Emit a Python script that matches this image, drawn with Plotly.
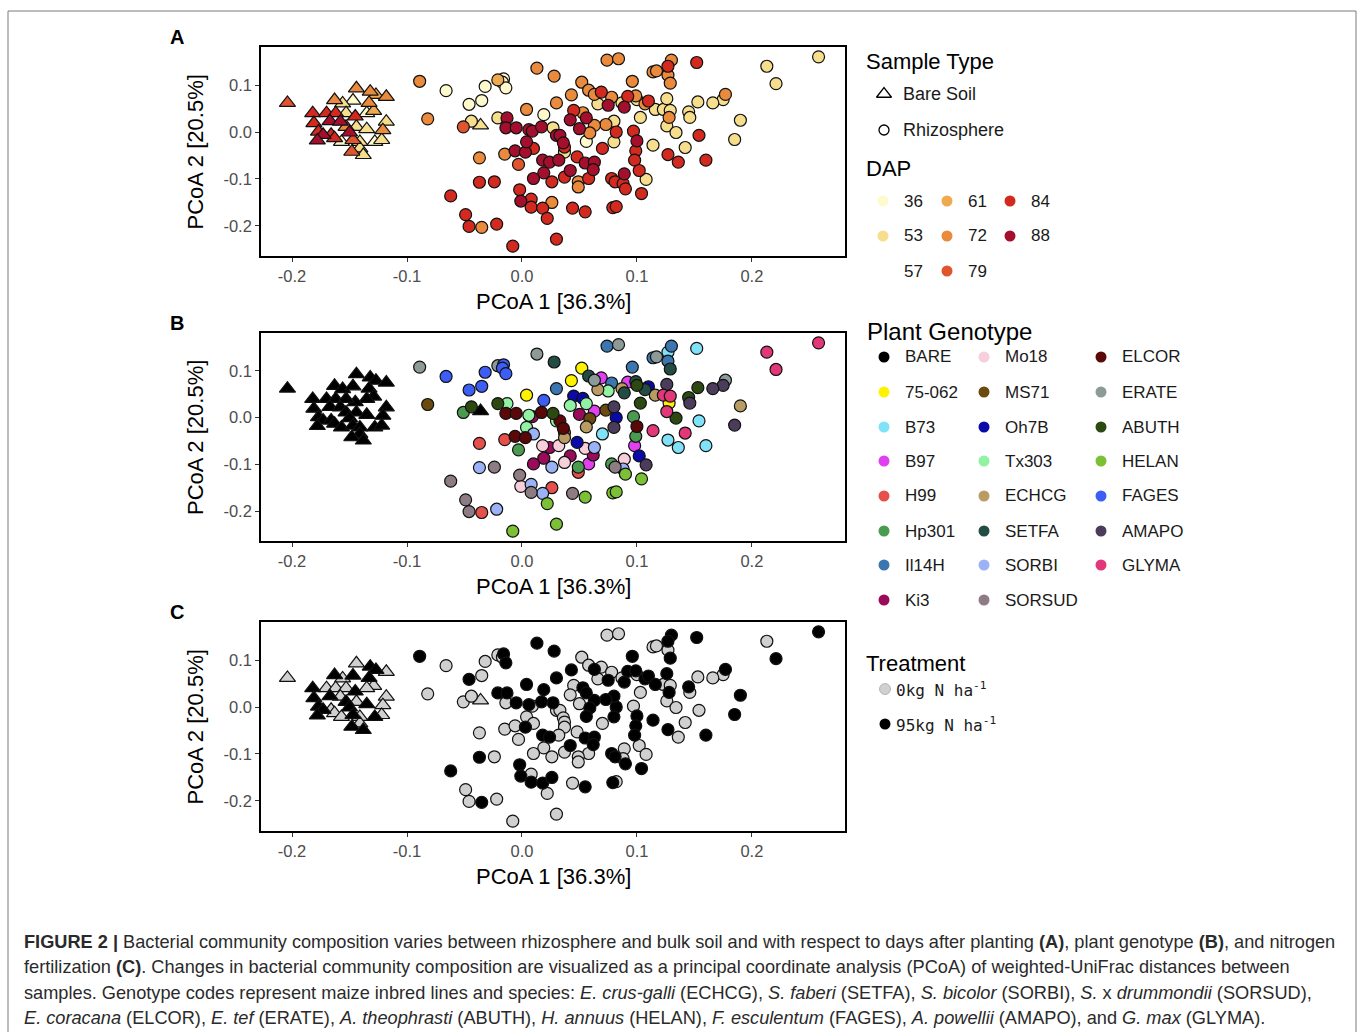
import plotly.graph_objects as go

# ---------------- DATA ----------------
# Bare soil samples (triangles)
bs_pc1 = [-0.204, -0.144, -0.132, -0.127, -0.118, -0.163, -0.156, -0.147, -0.133, -0.129,
          -0.135, -0.182, -0.170, -0.162, -0.145, -0.153, -0.181, -0.167, -0.158, -0.118,
          -0.153, -0.144, -0.135, -0.121, -0.177, -0.173, -0.166, -0.150, -0.163, -0.178,
          -0.157, -0.147, -0.141, -0.128, -0.141, -0.148, -0.138, -0.122, -0.036]
bs_pc2 = [0.062, 0.093, 0.086, 0.079, 0.075, 0.068, 0.061, 0.067, 0.062, 0.045,
          0.040, 0.040, 0.040, 0.040, 0.033, 0.040, 0.019, 0.023, 0.022, 0.022,
          0.011, 0.011, 0.006, 0.004, 0.001, -0.006, -0.006, -0.001, -0.013, -0.018,
          -0.021, -0.017, -0.021, -0.021, -0.035, -0.042, -0.049, -0.017, 0.014]
bs_dap = [79, 72, 72, 61, 72, 72, 53, 36, 72, 61,
          36, 84, 84, 84, 84, 53, 84, 88, 88, 53,
          72, 53, 53, 72, 84, 88, 84, 88, 84, 88,
          36, 79, 53, 36, 53, 79, 53, 53, 53]
bs_trt = [0, 0, 95, 95, 0, 95, 0, 95, 95, 0,
          0, 95, 0, 0, 95, 0, 95, 95, 0, 0,
          95, 0, 95, 0, 95, 95, 0, 95, 0, 95,
          0, 95, 0, 95, 0, 95, 95, 0, 0]

# Rhizosphere samples (circles)
rz_pc1 = [-0.089, -0.066, -0.082, -0.046, -0.035, -0.032, -0.021, -0.016, -0.017, -0.014,
          -0.051, -0.044, -0.021, -0.013, -0.014, -0.005, 0.004, 0.019, 0.006, 0.009,
          0.017, 0.027, 0.030, -0.037, -0.015, -0.006, 0.003, -0.003, 0.004, 0.010,
          0.018, 0.024, 0.019, 0.010, 0.026, -0.037, -0.024, -0.062, -0.002, -0.001,
          0.008, 0.008, 0.018, 0.026, 0.022, -0.049, -0.046, -0.035, -0.022, -0.008,
          0.030, 0.013, 0.028, 0.030, 0.074, 0.084, 0.152, 0.130, 0.127, 0.114,
          0.117, 0.127, 0.129, 0.096, 0.052, 0.058, 0.043, 0.063, 0.069, 0.078,
          0.066, 0.075, 0.087, 0.089, 0.092, 0.099, 0.100, 0.107, 0.110, 0.116,
          0.123, 0.129, 0.126, 0.128, 0.126, 0.134, 0.145, 0.146, 0.153, 0.154,
          0.142, 0.136, 0.127, 0.114, 0.103, 0.097, 0.100, 0.099, 0.098, 0.102,
          0.108, 0.104, 0.082, 0.080, 0.080, 0.073, 0.070, 0.089, 0.078, 0.081,
          0.088, 0.090, 0.079, 0.082, 0.055, 0.044, 0.045, 0.053, 0.042, 0.056,
          0.050, 0.063, 0.059, 0.056, 0.033, 0.036, 0.037, 0.037, 0.032, 0.048,
          0.055, 0.063, 0.062, 0.058, 0.042, 0.037, 0.049, 0.049, 0.258, 0.213,
          0.221, 0.177, 0.175, 0.166, 0.190, 0.185, 0.160]
rz_pc2 = [0.108, 0.088, 0.028, 0.059, 0.067, 0.097, 0.111, 0.113, 0.106, 0.094,
          0.011, 0.023, 0.030, 0.030, 0.009, 0.009, 0.048, 0.037, 0.005, 0.002,
          0.011, 0.009, -0.007, -0.055, -0.047, -0.040, -0.043, -0.069, -0.021, -0.035,
          -0.060, -0.064, -0.087, -0.099, -0.106, -0.107, -0.106, -0.136, -0.123, -0.147,
          -0.143, -0.160, -0.162, -0.150, -0.184, -0.176, -0.201, -0.203, -0.196, -0.243,
          -0.228, 0.136, 0.119, 0.062, 0.153, 0.156, 0.148, 0.153, 0.140, 0.128,
          0.130, 0.121, 0.104, 0.108, 0.106, 0.089, 0.079, 0.080, 0.085, 0.074,
          0.060, 0.057, 0.062, 0.053, 0.076, 0.077, 0.069, 0.060, 0.066, 0.048,
          0.048, 0.046, 0.071, 0.031, 0.013, -0.001, 0.043, 0.031, 0.064, -0.007,
          -0.033, -0.064, -0.048, -0.028, 0.031, 0.002, -0.019, -0.040, -0.060, -0.082,
          -0.101, -0.131, 0.000, 0.023, -0.021, 0.016, -0.035, -0.089, -0.099, -0.106,
          -0.110, -0.121, -0.161, -0.159, -0.170, -0.162, 0.046, 0.041, 0.026, 0.030,
          0.007, 0.014, -0.002, -0.020, -0.007, -0.023, -0.032, -0.043, -0.060, -0.053,
          -0.066, -0.064, -0.080, -0.099, -0.082, -0.096, -0.106, -0.117, 0.160, 0.140,
          0.103, 0.080, 0.069, 0.062, 0.025, -0.016, -0.060]
rz_dap = [72, 36, 72, 36, 36, 36, 61, 36, 36, 36,
          79, 53, 53, 88, 88, 88, 72, 36, 88, 88,
          88, 53, 88, 72, 72, 88, 88, 79, 88, 84,
          88, 88, 88, 88, 84, 84, 84, 84, 84, 88,
          84, 84, 84, 72, 84, 84, 84, 72, 84, 84,
          84, 72, 72, 72, 72, 72, 84, 72, 84, 72,
          72, 72, 72, 72, 72, 72, 72, 72, 84, 72,
          53, 88, 53, 88, 84, 72, 53, 72, 84, 53,
          53, 53, 53, 72, 53, 53, 53, 53, 53, 84,
          53, 84, 84, 53, 53, 84, 88, 84, 84, 84,
          53, 84, 84, 53, 53, 72, 84, 88, 84, 84,
          84, 84, 84, 84, 84, 84, 84, 72, 88, 88,
          88, 72, 72, 36, 88, 88, 84, 53, 88, 84,
          88, 88, 88, 84, 88, 84, 72, 72, 53, 53,
          53, 72, 53, 53, 53, 53, 84]
rz_geno = ["ERATE", "FAGES", "MS71", "FAGES", "FAGES", "FAGES", "ERATE", "FAGES", "FAGES", "FAGES",
           "Hp301", "ABUTH", "ABUTH", "Tx303", "ELCOR", "ELCOR", "75-062", "FAGES", "Tx303", "Ki3",
           "ELCOR", "ABUTH", "Tx303", "H99", "H99", "ELCOR", "ELCOR", "Hp301", "Tx303", "SORBI",
           "Mo18", "Ki3", "Ki3", "Ki3", "SORBI", "SORBI", "SORSUD", "SORSUD", "SORSUD", "Mo18",
           "SORBI", "SORSUD", "SORBI", "H99", "HELAN", "SORSUD", "SORSUD", "H99", "SORBI", "HELAN",
           "HELAN", "ERATE", "SETFA", "Il14H", "Il14H", "ERATE", "B73", "Il14H", "B73", "Il14H",
           "ERATE", "Il14H", "SETFA", "Il14H", "75-062", "SETFA", "75-062", "ERATE", "B97", "Il14H",
           "ECHCG", "Tx303", "ECHCG", "SETFA", "B97", "SETFA", "ABUTH", "SETFA", "Oh7B", "ECHCG",
           "GLYMA", "GLYMA", "AMAPO", "75-062", "GLYMA", "ABUTH", "ABUTH", "AMAPO", "ABUTH", "B73",
           "GLYMA", "B73", "B73", "GLYMA", "ABUTH", "Hp301", "ELCOR", "Hp301", "B97", "Oh7B",
           "AMAPO", "HELAN", "Oh7B", "AMAPO", "AMAPO", "MS71", "B73", "Mo18", "Hp301", "SORSUD",
           "SORBI", "HELAN", "HELAN", "HELAN", "HELAN", "SORSUD", "Oh7B", "Oh7B", "Tx303", "Tx303",
           "Ki3", "B97", "MS71", "ECHCG", "ELCOR", "ELCOR", "H99", "ECHCG", "Mo18", "Oh7B",
           "Mo18", "SORBI", "Ki3", "B97", "Ki3", "Mo18", "Hp301", "H99", "GLYMA", "GLYMA",
           "GLYMA", "ERATE", "AMAPO", "AMAPO", "ECHCG", "AMAPO", "B73"]
rz_trt = [95, 0, 0, 95, 0, 0, 0, 95, 0, 95,
          0, 0, 95, 95, 0, 95, 95, 95, 95, 0,
          95, 95, 0, 0, 0, 0, 95, 0, 0, 0,
          95, 95, 0, 0, 0, 95, 0, 95, 95, 95,
          0, 95, 95, 95, 0, 0, 0, 95, 0, 0,
          0, 95, 95, 95, 0, 0, 95, 95, 95, 0,
          0, 0, 95, 95, 0, 0, 95, 95, 0, 0,
          0, 95, 0, 95, 95, 95, 0, 95, 95, 95,
          0, 0, 95, 95, 0, 0, 95, 0, 0, 0,
          0, 0, 95, 95, 0, 0, 95, 95, 95, 0,
          0, 95, 95, 95, 95, 95, 0, 0, 95, 95,
          0, 95, 95, 0, 95, 0, 0, 95, 0, 95,
          0, 95, 95, 95, 0, 0, 0, 0, 0, 0,
          95, 95, 95, 0, 95, 0, 0, 0, 95, 0,
          95, 95, 0, 0, 95, 95, 95]

dap_levels = [36, 53, 57, 61, 72, 79, 84, 88]
dap_colors = ["#FFFACD", "#F6DE8C", "#FFFFFF", "#EEAA4E", "#E98A3C", "#E1552E", "#D32A20", "#A30F2C"]

geno_levels = ["BARE", "75-062", "B73", "B97", "H99", "Hp301", "Il14H", "Ki3",
               "Mo18", "MS71", "Oh7B", "Tx303", "ECHCG", "SETFA", "SORBI", "SORSUD",
               "ELCOR", "ERATE", "ABUTH", "HELAN", "FAGES", "AMAPO", "GLYMA"]
geno_colors = ["#000000", "#FFF200", "#80E2F8", "#E040F0", "#E6504A", "#4A9A50", "#3C76B0", "#9A0B5C",
               "#F6CFDA", "#6A4A0E", "#0A0AAA", "#92F2A4", "#B89C64", "#234C45", "#9BB2F6", "#8D7C84",
               "#5A0808", "#8C9B97", "#2D4912", "#7CC036", "#3C5EF6", "#4A3C5A", "#E2387A"]

trt_levels = [0, 95]
trt_labels = ["0kg N ha<sup>-1</sup>", "95kg N ha<sup>-1</sup>"]
trt_colors = ["#D0D0D0", "#000000"]

# ---------------- LAYOUT CONSTANTS ----------------
W, H = 1358, 1032
PX0, PX1 = 261, 845
PANELS = [(47, 256), (333, 541), (622, 831)]
XR = [-0.227, 0.281]
YR = [-0.264, 0.181]


def px(x):
    return x / W


def py(y):
    return 1 - y / H


fig = go.Figure()

MK_LINE = dict(color="#111111", width=1.2)
CIRC = 12
TRI = 14


def add_group(panel, xs, ys, color, symbol, size):
    ax = "" if panel == 1 else str(panel)
    fig.add_trace(go.Scatter(
        x=xs, y=ys, mode="markers", xaxis="x" + ax, yaxis="y" + ax,
        marker=dict(color=color, symbol=symbol, size=size, line=MK_LINE),
        showlegend=False, hoverinfo="skip", cliponaxis=False))


# Panel A: DAP
for lvl, col in zip(dap_levels, dap_colors):
    bx = [x for x, d in zip(bs_pc1, bs_dap) if d == lvl]
    by = [y for y, d in zip(bs_pc2, bs_dap) if d == lvl]
    if bx:
        add_group(1, bx, by, col, "triangle-up", TRI)
for lvl, col in zip(dap_levels, dap_colors):
    rx = [x for x, d in zip(rz_pc1, rz_dap) if d == lvl]
    ry = [y for y, d in zip(rz_pc2, rz_dap) if d == lvl]
    if rx:
        add_group(1, rx, ry, col, "circle", CIRC)

# Panel B: genotype
add_group(2, bs_pc1, bs_pc2, geno_colors[0], "triangle-up", TRI)
for lvl, col in zip(geno_levels[1:], geno_colors[1:]):
    rx = [x for x, g in zip(rz_pc1, rz_geno) if g == lvl]
    ry = [y for y, g in zip(rz_pc2, rz_geno) if g == lvl]
    if rx:
        add_group(2, rx, ry, col, "circle", CIRC)

# Panel C: treatment
for lvl, col in zip(trt_levels, trt_colors):
    bx = [x for x, t in zip(bs_pc1, bs_trt) if t == lvl]
    by = [y for y, t in zip(bs_pc2, bs_trt) if t == lvl]
    add_group(3, bx, by, col, "triangle-up", TRI)
for lvl, col in zip(trt_levels, trt_colors):
    rx = [x for x, t in zip(rz_pc1, rz_trt) if t == lvl]
    ry = [y for y, t in zip(rz_pc2, rz_trt) if t == lvl]
    add_group(3, rx, ry, col, "circle", CIRC)

# ---------------- AXES ----------------
xticks = [-0.2, -0.1, 0.0, 0.1, 0.2]
xtext = ["-0.2", "-0.1", "0.0", "0.1", "0.2"]
yticks = [-0.2, -0.1, 0.0, 0.1]
ytext = ["-0.2", "-0.1", "0.0", "0.1"]
FONT = "Liberation Sans, Arial, sans-serif"

layout = dict(
    width=W, height=H, margin=dict(l=0, r=0, t=0, b=0),
    paper_bgcolor="white", plot_bgcolor="rgba(0,0,0,0)",
    font=dict(family=FONT, color="#000000"),
)
for i, (t, b) in enumerate(PANELS, start=1):
    sx = "" if i == 1 else str(i)
    layout["xaxis" + sx] = dict(
        domain=[px(PX0), px(PX1)], range=XR, anchor="y" + sx,
        tickvals=xticks, ticktext=xtext, ticks="outside", ticklen=4, tickcolor="#333",
        tickfont=dict(size=16.5, color="#4D4D4D", family=FONT),
        showline=True, mirror=True, linecolor="#000", linewidth=1.6,
        showgrid=False, zeroline=False)
    layout["yaxis" + sx] = dict(
        domain=[py(b), py(t)], range=YR, anchor="x" + sx,
        tickvals=yticks, ticktext=ytext, ticks="outside", ticklen=4, tickcolor="#333",
        tickfont=dict(size=16.5, color="#4D4D4D", family=FONT),
        showline=True, mirror=True, linecolor="#000", linewidth=1.6,
        showgrid=False, zeroline=False)

# overlay axis for legends (pixel space)
layout["xaxis4"] = dict(domain=[0, 1], range=[0, W], visible=False, anchor="y4", fixedrange=True)
layout["yaxis4"] = dict(domain=[0, 1], range=[H, 0], visible=False, anchor="x4", fixedrange=True)

annotations = []
shapes = []


def text(x, y, s, size=17, color="#1a1a1a", xanchor="left", family=FONT, angle=0):
    annotations.append(dict(x=px(x), y=py(y), xref="paper", yref="paper", text=s,
                            showarrow=False, xanchor=xanchor, yanchor="middle",
                            font=dict(size=size, color=color, family=family), textangle=angle))


# axis titles and panel letters
for (t, b), letter in zip(PANELS, ["A", "B", "C"]):
    text((PX0 + PX1) / 2, b + 45, "PCoA 1 [36.3%]", size=22, color="#000", xanchor="center")
    text(195, (t + b) / 2, "PCoA 2 [20.5%]", size=22, color="#000", xanchor="center", angle=-90)
    text(177, t - 10, "<b>" + letter + "</b>", size=20, color="#000", xanchor="center")


# legend marker traces
def leg_marker(xs, ys, colors, symbol="circle", size=10, line=None):
    fig.add_trace(go.Scatter(
        x=xs, y=ys, mode="markers", xaxis="x4", yaxis="y4",
        marker=dict(color=colors, symbol=symbol, size=size,
                    line=line if line else dict(width=0)),
        showlegend=False, hoverinfo="skip"))


# Sample Type
text(864, 62, "Sample Type", size=22, color="#000")
leg_marker([884], [94], ["#000000"], symbol="triangle-up-open", size=13,
           line=dict(color="#000", width=1.3))
leg_marker([884], [130], ["#000000"], symbol="circle-open", size=10,
           line=dict(color="#000", width=1.3))
text(901, 94, "Bare Soil", size=18)
text(901, 130, "Rhizosphere", size=18)

# DAP
text(864, 168, "DAP", size=22, color="#000")
dap_cols_x = [883, 947, 1010]
dap_rows_y = [201, 236, 271]
dx, dy, dc = [], [], []
for k, (lvl, col) in enumerate(zip(dap_levels, dap_colors)):
    cx = dap_cols_x[k // 3]
    cy = dap_rows_y[k % 3]
    dx.append(cx); dy.append(cy); dc.append(col)
    text(cx + 19, cy, str(lvl))
leg_marker(dx, dy, dc, size=11)

# Plant Genotype
text(865, 331, "Plant Genotype", size=24, color="#000")
g_cols_x = [884, 984, 1101]
g_rows_y = [357, 392, 427, 461, 496, 531, 565, 600]
gx, gy, gc = [], [], []
for k, (lvl, col) in enumerate(zip(geno_levels, geno_colors)):
    cx = g_cols_x[k // 8]
    cy = g_rows_y[k % 8]
    gx.append(cx); gy.append(cy); gc.append(col)
    text(cx + 19, cy, lvl)
leg_marker(gx, gy, gc, size=11)

# Treatment
text(864, 663, "Treatment", size=22, color="#000")
leg_marker([885], [689], [trt_colors[0]], size=11, line=dict(color="#aaa", width=0.8))
leg_marker([885], [724], [trt_colors[1]], size=11)
text(894, 689, trt_labels[0], size=16, family="DejaVu Sans Mono, monospace")
text(894, 724, trt_labels[1], size=16, family="DejaVu Sans Mono, monospace")

# caption
cap = [
    "<b>FIGURE 2 |</b> Bacterial community composition varies between rhizosphere and bulk soil and with respect to days after planting <b>(A)</b>, plant genotype <b>(B)</b>, and nitrogen",
    "fertilization <b>(C)</b>. Changes in bacterial community composition are visualized as a principal coordinate analysis (PCoA) of weighted-UniFrac distances between",
    "samples. Genotype codes represent maize inbred lines and species: <i>E. crus-galli</i> (ECHCG), <i>S. faberi</i> (SETFA), <i>S. bicolor</i> (SORBI), <i>S.</i> x <i>drummondii</i> (SORSUD),",
    "<i>E. coracana</i> (ELCOR), <i>E. tef</i> (ERATE), <i>A. theophrasti</i> (ABUTH), <i>H. annuus</i> (HELAN), <i>F. esculentum</i> (FAGES), <i>A. powellii</i> (AMAPO), and <i>G. max</i> (GLYMA).",
]
for k, line in enumerate(cap):
    text(22, 942 + k * 25.3, line, size=18.2, color="#2a2a2a")

# outer frame
shapes.append(dict(type="rect", xref="paper", yref="paper",
                   x0=px(8), x1=px(1356), y0=py(1040), y1=py(11),
                   line=dict(color="#7a7a7a", width=1), fillcolor="rgba(0,0,0,0)", layer="below"))

layout["annotations"] = annotations
layout["shapes"] = shapes
fig.update_layout(**layout)
fig.write_html("out.html")
